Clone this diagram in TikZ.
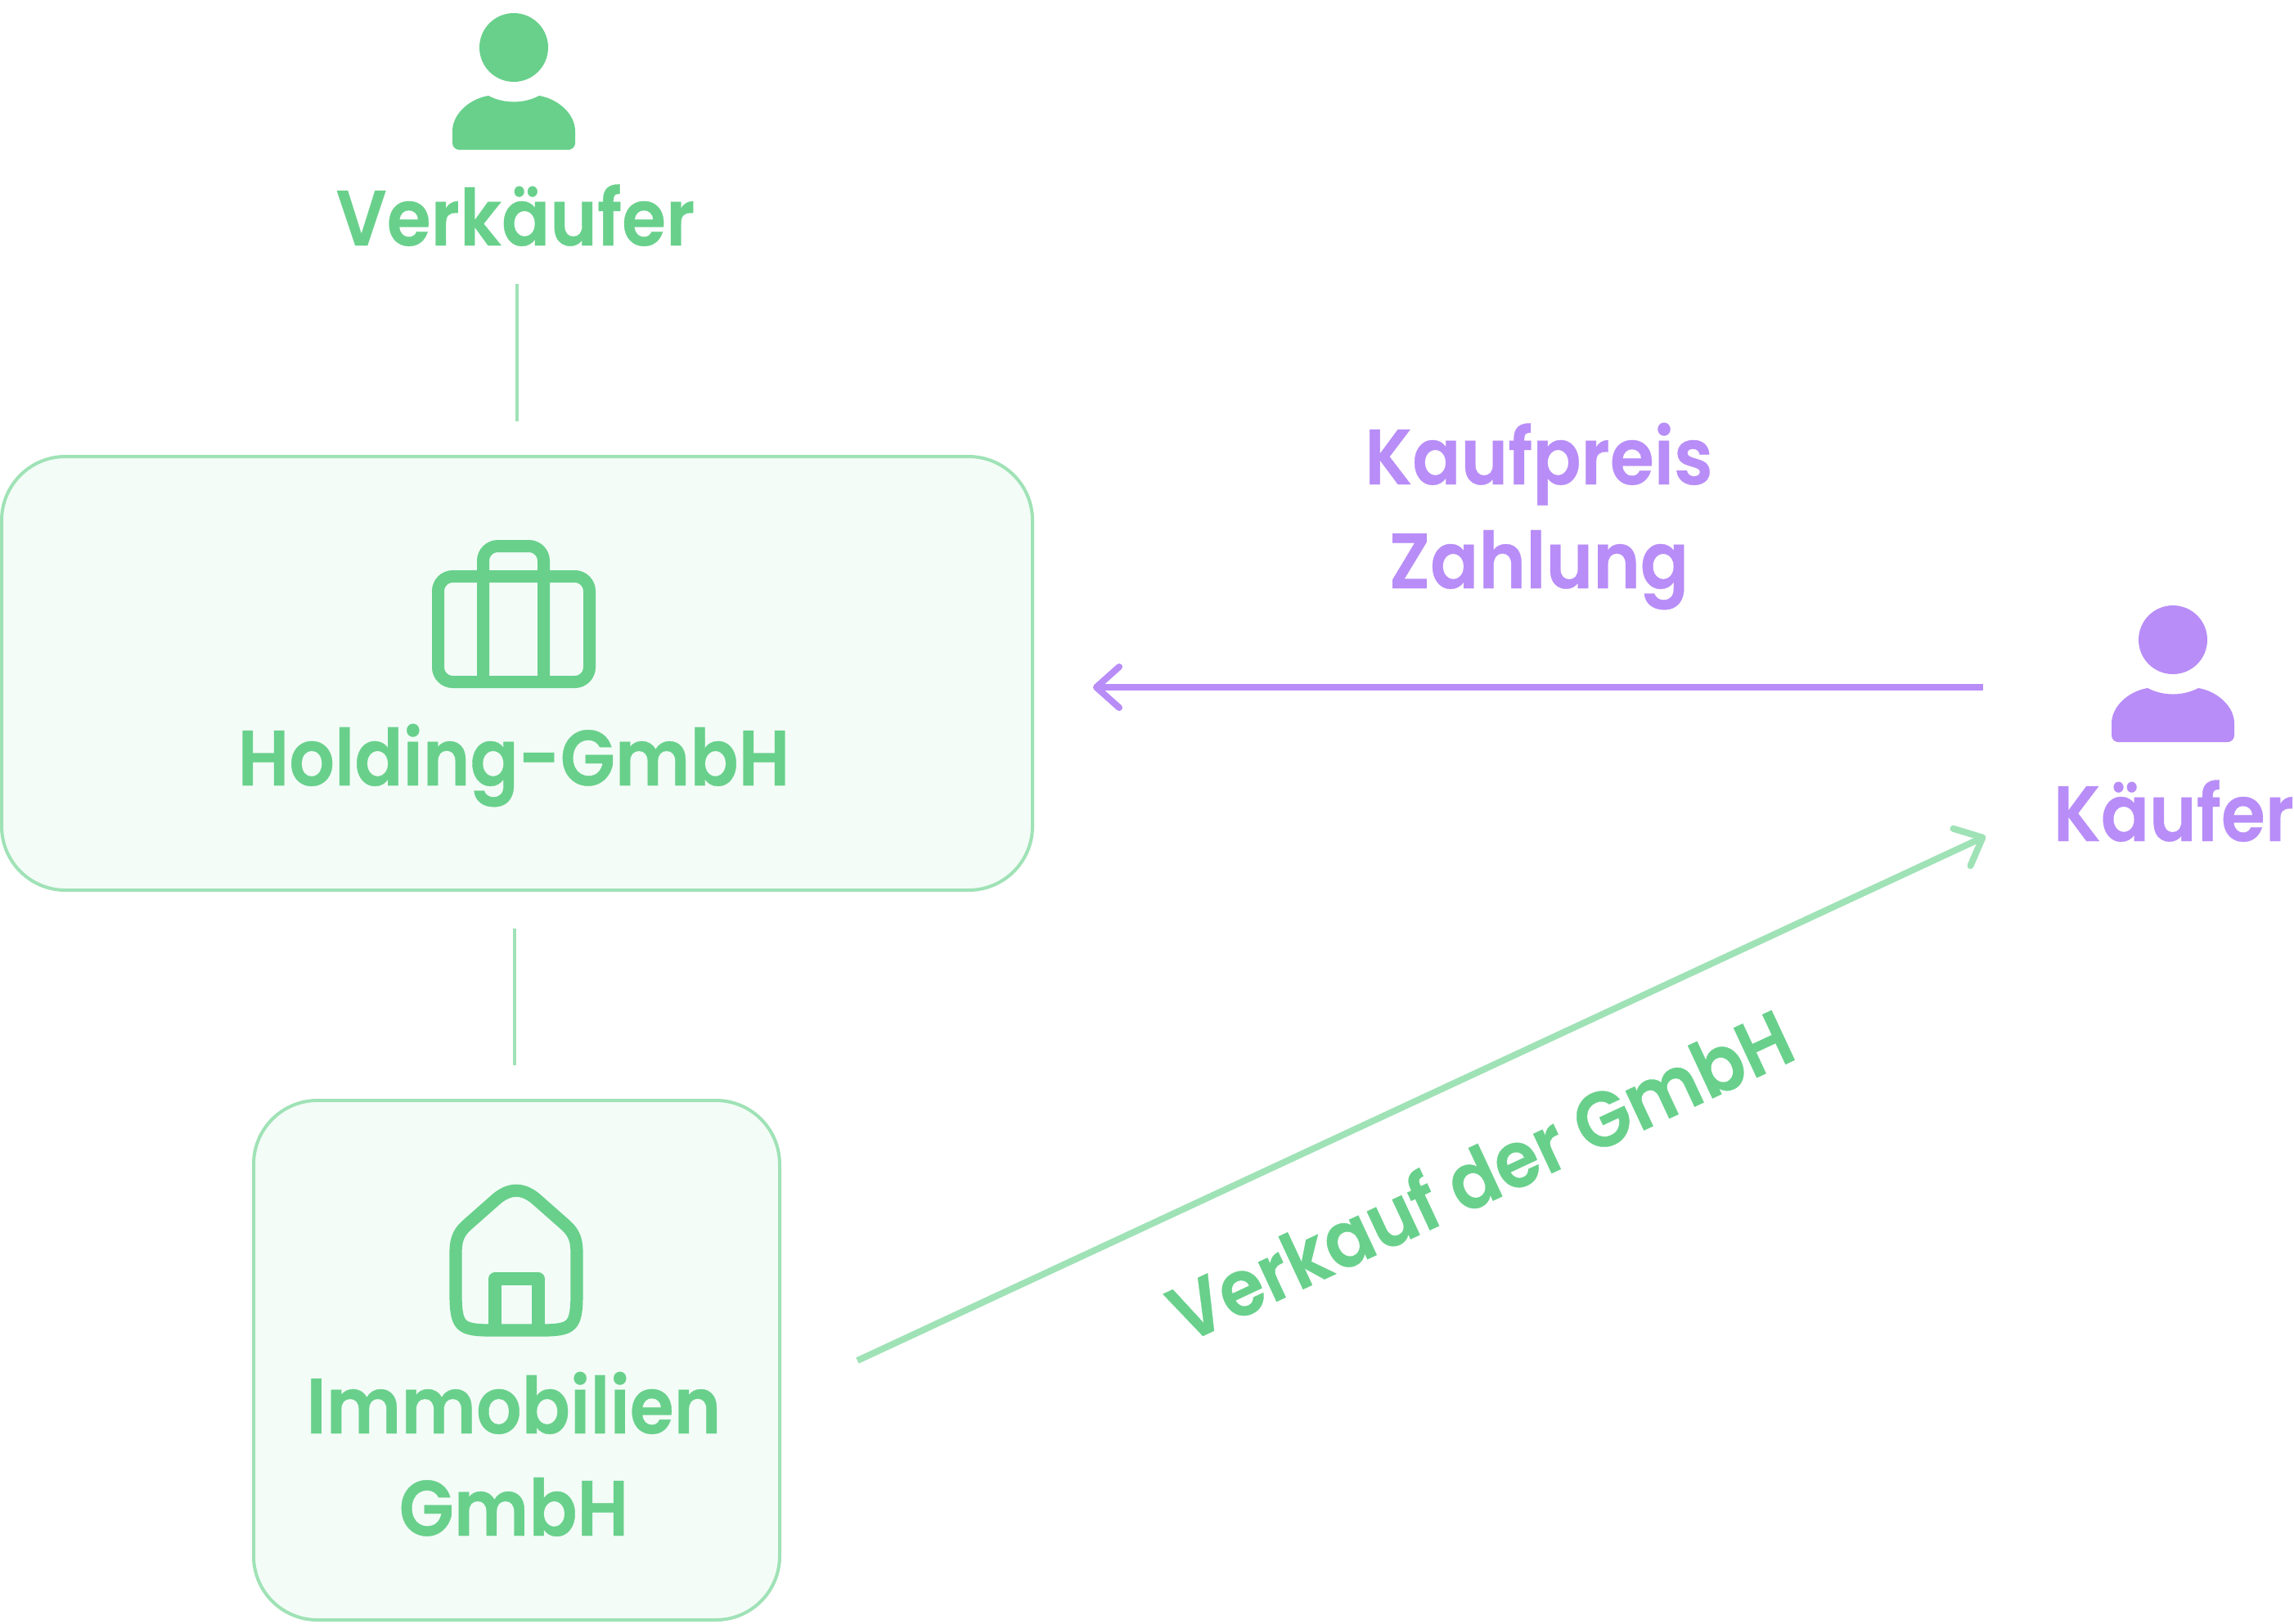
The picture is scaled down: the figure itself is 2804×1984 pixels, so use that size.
\documentclass[tikz,border=0pt]{standalone}
\usepackage{fontspec}
\usetikzlibrary{arrows.meta}
\setmainfont{Poppins SemiBold}[FakeStretch=0.91,FakeBold=0.35]
\definecolor{greenmain}{HTML}{68D08B}
\definecolor{greenline}{HTML}{9FE2B6}
\definecolor{greenfill}{HTML}{F3FCF7}
\definecolor{purplemain}{HTML}{B88DF7}
\tikzset{
  greenlabel/.style={font=\fontsize{24}{24}\selectfont,text=greenmain,anchor=base,inner sep=0pt},
  purplelabel/.style={greenlabel,text=purplemain},
  companybox/.style={draw=greenline,fill=greenfill,line width=1pt,rounded corners=19.5pt,inner sep=0pt},
  linkline/.style={draw=greenline,line width=1pt},
  salearrow/.style={draw=greenline,line width=2pt,-{Straight Barb[length=7pt,width=12.5pt,round]}},
  payarrow/.style={draw=purplemain,line width=2pt,-{Straight Barb[length=7pt,width=12.5pt,round]}},
  personicon/.pic={
    \fill[pic actions] (0,0) circle (42);
    \fill[pic actions] (-31,59) .. controls (-12,69) and (12,69) .. (31,59)
      .. controls (55,63) and (75,82) .. (75,102) -- (75,117)
      .. controls (75,121.5) and (71,125) .. (67,125) -- (-67,125)
      .. controls (-71,125) and (-75,121.5) .. (-75,117) -- (-75,102)
      .. controls (-75,82) and (-55,63) .. (-31,59) -- cycle;
  },
  caseicon/.pic={
    \draw[pic actions,rounded corners=4.5pt] (535.5,704.5) rectangle (720.5,833.5);
    \draw[pic actions,rounded corners=4.5pt] (590.5,833.5) -- (590.5,667.5) -- (664.5,667.5) -- (664.5,833.5);
  },
  houseicon/.pic={
    \draw[pic actions] (604,1468) .. controls (622,1451) and (640,1451) .. (658,1468)
      -- (692,1498) .. controls (703,1508) and (705,1518) .. (705,1532) -- (705,1580)
      .. controls (705,1622) and (700,1626) .. (660,1626) -- (602,1626)
      .. controls (562,1626) and (557,1622) .. (557,1580) -- (557,1532)
      .. controls (557,1518) and (559,1508) .. (570,1498) -- cycle;
    \draw[pic actions,line join=round] (605,1626) -- (605,1563) -- (658,1563) -- (658,1626);
  }
}
\begin{document}
\begin{tikzpicture}[x=0.25pt,y=-0.25pt]
  \useasboundingbox (0,0) rectangle (2804,1984);
  % boxes
  \node[companybox,minimum width=315pt,minimum height=132.5pt] (holding) at (632,823) {};
  \node[companybox,minimum width=160.75pt,minimum height=158.75pt] (immobilien) at (631.5,1662.5) {};
  % icons
  \pic[fill=greenmain] at (628,58) {personicon};
  \pic[fill=purplemain] at (2656,782) {personicon};
  \pic[draw=greenmain,line width=3.75pt] at (0,0) {caseicon};
  \pic[draw=greenmain,line width=3.8pt] at (0,0) {houseicon};
  % labels
  \node[greenlabel] (verkaeufer) at (630,300) {Verkäufer};
  \node[greenlabel] (holdinglabel) at (628,960) {Holding-GmbH};
  \node[greenlabel] (immolabel) at (628,1752) {Immobilien};
  \node[greenlabel] (gmbhlabel) at (628,1877) {GmbH};
  \node[purplelabel] (kaufpreis) at (1881,592) {Kaufpreis};
  \node[purplelabel] (zahlung) at (1881,719) {Zahlung};
  \node[purplelabel] (kaeufer) at (2657,1028) {Käufer};
  \node[greenlabel,rotate=25,xscale=1.01] (verkauf) at (1824,1468) {Verkauf der GmbH};
  % connectors
  \coordinate (linetop) at (632,347);
  \coordinate (lineholding) at (632,515);
  \coordinate (linemid) at (629,1135);
  \coordinate (lineimmo) at (629,1302);
  \coordinate (paystart) at (2424,840);
  \coordinate (payend) at (1336,840);
  \coordinate (salestart) at (1048,1663);
  \coordinate (saleend) at (2427,1022);
  \draw[linkline] (linetop) -- (lineholding);
  \draw[linkline] (linemid) -- (lineimmo);
  \draw[payarrow] (paystart) -- (payend);
  \draw[salearrow] (salestart) -- (saleend);
\end{tikzpicture}
\end{document}
